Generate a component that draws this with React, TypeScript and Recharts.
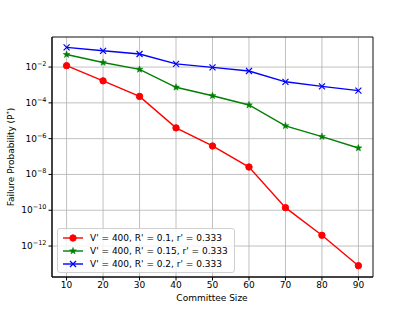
import { LineChart, Line, XAxis, YAxis, CartesianGrid, ReferenceArea } from 'recharts';

const committeeSizes = [10, 20, 30, 40, 50, 60, 70, 80, 90];
const redValues = [1.2e-2, 1.7e-3, 2.3e-4, 4e-6, 3.9e-7, 2.6e-8, 1.4e-10, 4e-12, 8e-14];
const greenValues = [5e-2, 1.8e-2, 7.4e-3, 7.4e-4, 2.5e-4, 7.6e-5, 5.2e-6, 1.3e-6, 3e-7];
const blueValues = [0.126, 0.081, 0.054, 0.015, 9.6e-3, 6e-3, 1.5e-3, 8.3e-4, 4.8e-4];
const yTicks = [1e-2, 1e-4, 1e-6, 1e-8, 1e-10, 1e-12];
const xTicks = [10, 20, 30, 40, 50, 60, 70, 80, 90];
const seriesNames = [
  "V' = 400, R' = 0.1, r' = 0.333",
  "V' = 400, R' = 0.15, r' = 0.333",
  "V' = 400, R' = 0.2, r' = 0.333",
];

const Y_MIN = Math.pow(10, -13.73);
const Y_MAX = Math.pow(10, -0.32);
const FONT = 'DejaVu Sans, sans-serif';

const data = committeeSizes.map((size, i) => ({
  size,
  red: redValues[i],
  green: greenValues[i],
  blue: blueValues[i],
}));

function Circle({ cx, cy, color }: any) {
  return <circle cx={cx} cy={cy} r={3.2} fill={color} stroke={color} />;
}

function Star({ cx, cy, color }: any) {
  const pts: string[] = [];
  for (let k = 0; k < 10; k++) {
    const r = k % 2 === 0 ? 3.6 : 1.5;
    const a = -Math.PI / 2 + (k * Math.PI) / 5;
    pts.push(`${cx + r * Math.cos(a)},${cy + r * Math.sin(a)}`);
  }
  return <polygon points={pts.join(' ')} fill={color} stroke={color} strokeWidth={0.5} />;
}

function Cross({ cx, cy, color }: any) {
  const s = 3;
  return (
    <g stroke={color} strokeWidth={1.2}>
      <line x1={cx - s} y1={cy - s} x2={cx + s} y2={cy + s} />
      <line x1={cx - s} y1={cy + s} x2={cx + s} y2={cy - s} />
    </g>
  );
}

const markers = [Circle, Star, Cross];
const colors = ['#ff0000', '#008000', '#0000ff'];

function YTick({ x, y, payload }: any) {
  const exp = Math.round(Math.log10(payload.value));
  return (
    <text x={x} y={y + 3} textAnchor="end" fontSize={9} fontFamily={FONT} fill="#000">
      10
      <tspan dy={-4} fontSize={6.5}>{`\u2212${-exp}`}</tspan>
    </text>
  );
}

function LegendBox() {
  return (
    <div
      style={{
        position: 'absolute',
        left: 57,
        top: 228,
        border: '1px solid #d0d0d0',
        borderRadius: 3,
        background: 'rgba(255,255,255,0.8)',
        padding: '2px 6px 2px 4px',
        fontFamily: FONT,
        fontSize: 9,
        color: '#000',
        whiteSpace: 'nowrap',
      }}
    >
      {seriesNames.map((name, i) => {
        const M = markers[i];
        return (
          <div key={name} style={{ display: 'flex', alignItems: 'center', height: 13 }}>
            <svg width={22} height={10} style={{ marginRight: 6 }}>
              <line x1={1} y1={5} x2={21} y2={5} stroke={colors[i]} strokeWidth={1.4} />
              <M cx={11} cy={5} color={colors[i]} />
            </svg>
            <span>{name}</span>
          </div>
        );
      })}
    </div>
  );
}

export default function App() {
  return (
    <div style={{ position: 'absolute', left: 0, top: 0, width: 415, height: 311, background: '#fff' }}>
      <LineChart width={415} height={311} data={data} margin={{ top: 37, right: 42, bottom: 0, left: 0 }}>
        <CartesianGrid stroke="#b0b0b0" strokeWidth={0.8} />
        <XAxis
          dataKey="size"
          type="number"
          domain={[6, 94]}
          ticks={xTicks}
          height={34}
          tickSize={3.5}
          tickMargin={1}
          stroke="#000"
          tick={{ fontSize: 9, fontFamily: FONT, fill: '#000' }}
          label={(props: any) => (
            <text x={212} y={301} textAnchor="middle" fontSize={9} fontFamily={FONT} fill="#000">
              Committee Size
            </text>
          )}
        />
        <YAxis
          scale="log"
          domain={[Y_MIN, Y_MAX]}
          allowDataOverflow
          ticks={yTicks}
          width={52}
          tickSize={3.5}
          tickMargin={2}
          stroke="#000"
          tick={<YTick />}
          label={(props: any) => (
            <text
              x={14}
              y={157}
              transform="rotate(-90, 14, 157)"
              textAnchor="middle"
              fontSize={9}
              fontFamily={FONT}
              fill="#000"
            >
              Failure Probability (P
              <tspan dy={-3} fontSize={6.5}>*</tspan>
              <tspan dy={3}>)</tspan>
            </text>
          )}
        />
        <ReferenceArea
          x1={6}
          x2={94}
          y1={Y_MIN}
          y2={Y_MAX}
          fill="none"
          stroke="#000"
          strokeWidth={0.8}
          ifOverflow="visible"
        />
        <Line
          dataKey="red"
          name={seriesNames[0]}
          stroke={colors[0]}
          strokeWidth={1.4}
          dot={(p: any) => <Circle key={p.index} cx={p.cx} cy={p.cy} color={colors[0]} />}
          isAnimationActive={false}
        />
        <Line
          dataKey="green"
          name={seriesNames[1]}
          stroke={colors[1]}
          strokeWidth={1.4}
          dot={(p: any) => <Star key={p.index} cx={p.cx} cy={p.cy} color={colors[1]} />}
          isAnimationActive={false}
        />
        <Line
          dataKey="blue"
          name={seriesNames[2]}
          stroke={colors[2]}
          strokeWidth={1.4}
          dot={(p: any) => <Cross key={p.index} cx={p.cx} cy={p.cy} color={colors[2]} />}
          isAnimationActive={false}
        />
      </LineChart>
      <LegendBox />
    </div>
  );
}
